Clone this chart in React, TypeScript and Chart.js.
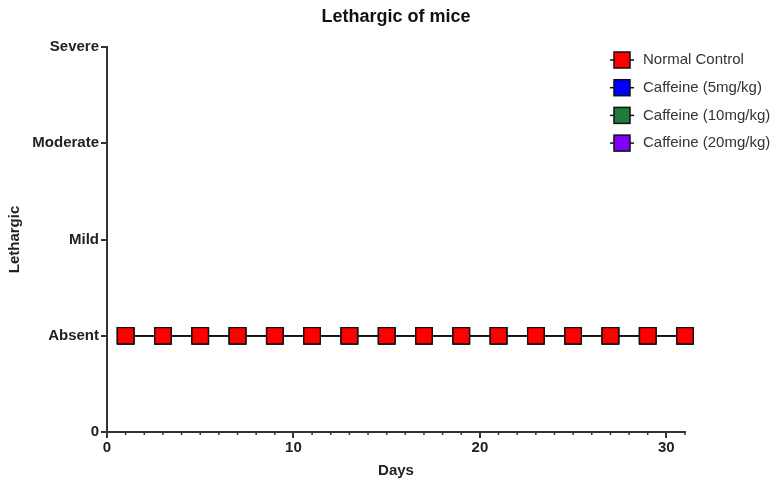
import { useEffect, useRef } from 'react';
import { Chart, registerables } from 'chart.js';

Chart.register(...registerables);

const days = [1, 3, 5, 7, 9, 11, 13, 15, 17, 19, 21, 23, 25, 27, 29, 31];
const normalControl = [1, 1, 1, 1, 1, 1, 1, 1, 1, 1, 1, 1, 1, 1, 1, 1];
const caffeine5 = [1, 1, 1, 1, 1, 1, 1, 1, 1, 1, 1, 1, 1, 1, 1, 1];
const caffeine10 = [1, 1, 1, 1, 1, 1, 1, 1, 1, 1, 1, 1, 1, 1, 1, 1];
const caffeine20 = [1, 1, 1, 1, 1, 1, 1, 1, 1, 1, 1, 1, 1, 1, 1, 1];
const seriesNames = ['Normal Control', 'Caffeine (5mg/kg)', 'Caffeine (10mg/kg)', 'Caffeine (20mg/kg)'];
const seriesColors = ['#ff0000', '#0000ff', '#1f7a3e', '#7f00ff'];
const seriesValues = [normalControl, caffeine5, caffeine10, caffeine20];
const yTickLabels = ['0', 'Absent', 'Mild', 'Moderate', 'Severe'];
const chartTitle = 'Lethargic of mice';
const xTitle = 'Days';
const yTitle = 'Lethargic';

const FONT = "'Liberation Sans', Arial, sans-serif";
const AXIS = '#333333';

const extrasPlugin = {
  id: 'extras',
  afterDraw(chart: any) {
    const { ctx, chartArea, scales } = chart;
    const cx = (chartArea.left + chartArea.right) / 2;
    const cy = (chartArea.top + chartArea.bottom) / 2;
    ctx.save();
    // title
    ctx.fillStyle = '#111';
    ctx.textAlign = 'center';
    ctx.textBaseline = 'middle';
    ctx.font = `bold 18px ${FONT}`;
    ctx.fillText(chartTitle, cx, 17);
    // x title
    ctx.fillStyle = '#222';
    ctx.font = `bold 15px ${FONT}`;
    ctx.fillText(xTitle, cx, 471);
    // y title
    ctx.save();
    ctx.translate(15, cy);
    ctx.rotate(-Math.PI / 2);
    ctx.fillText(yTitle, 0, 0);
    ctx.restore();
    // minor ticks on x
    const xs = scales.x;
    ctx.strokeStyle = AXIS;
    ctx.lineWidth = 1.5;
    for (let v = xs.min; v <= xs.max; v++) {
      if (v % 10 === 0) continue;
      const px = xs.getPixelForValue(v);
      ctx.beginPath();
      ctx.moveTo(px, chartArea.bottom);
      ctx.lineTo(px, chartArea.bottom + 3);
      ctx.stroke();
    }
    // legend
    const ds = chart.data.datasets;
    ds.forEach((d: any, i: number) => {
      const y = 60 + i * 27.7;
      const mx = 622;
      ctx.strokeStyle = '#111';
      ctx.lineWidth = 1.5;
      ctx.beginPath();
      ctx.moveTo(mx - 12, y);
      ctx.lineTo(mx + 12, y);
      ctx.stroke();
      ctx.fillStyle = d.pointBackgroundColor;
      ctx.fillRect(mx - 8, y - 8, 16, 16);
      ctx.strokeRect(mx - 8, y - 8, 16, 16);
      ctx.fillStyle = '#333';
      ctx.textAlign = 'left';
      ctx.textBaseline = 'middle';
      ctx.font = `15px ${FONT}`;
      ctx.fillText(d.label, 643, y);
    });
    ctx.restore();
  },
};

export default function App() {
  const ref = useRef<HTMLCanvasElement | null>(null);
  useEffect(() => {
    if (!ref.current) return;
    const chart = new Chart(ref.current, {
      type: 'line',
      data: {
        datasets: seriesNames.map((name, i) => ({
          label: name,
          data: days.map((d, j) => ({ x: d, y: seriesValues[i][j] })),
          borderColor: '#111',
          borderWidth: 1.5,
          backgroundColor: seriesColors[i],
          pointBackgroundColor: seriesColors[i],
          pointBorderColor: '#111',
          pointBorderWidth: 1.3,
          pointStyle: 'rect',
          pointRadius: 11.6,
          tension: 0,
          clip: false as any,
        })),
      },
      options: {
        animation: false,
        responsive: false,
        layout: { padding: { left: 0, top: 47, right: 93, bottom: 0 } },
        plugins: {
          legend: { display: false },
          title: { display: false },
          tooltip: { enabled: false },
        },
        scales: {
          x: {
            type: 'linear',
            min: 0,
            max: 31,
            afterFit(s: any) {
              s.height = 50;
            },
            border: { color: AXIS, width: 2 },
            grid: {
              drawOnChartArea: false,
              drawTicks: true,
              tickLength: 6,
              lineWidth: 2,
              color: (c: any) => (c.tick && c.tick.value % 10 === 0 ? AXIS : 'rgba(0,0,0,0)'),
            },
            ticks: {
              stepSize: 1,
              autoSkip: false,
              maxRotation: 0,
              padding: 1,
              color: '#222',
              font: { family: FONT, size: 15, weight: 'bold' },
              callback: (v: any) => (Number(v) % 10 === 0 ? String(v) : ''),
            },
          },
          y: {
            min: 0,
            max: 4,
            afterFit(s: any) {
              s.width = 107;
            },
            border: { color: AXIS, width: 2 },
            grid: {
              drawOnChartArea: false,
              drawTicks: true,
              tickLength: 6,
              lineWidth: 2,
              color: AXIS,
            },
            ticks: {
              stepSize: 1,
              padding: 2,
              color: '#222',
              font: { family: FONT, size: 15, weight: 'bold' },
              callback: (v: any) => yTickLabels[Number(v)] ?? '',
            },
          },
        },
      },
      plugins: [extrasPlugin],
    });
    return () => chart.destroy();
  }, []);
  return (
    <div style={{ position: 'absolute', left: 0, top: 0, width: 778, height: 482, background: '#fff' }}>
      <canvas ref={ref} width={778} height={482} style={{ display: 'block' }} />
    </div>
  );
}
